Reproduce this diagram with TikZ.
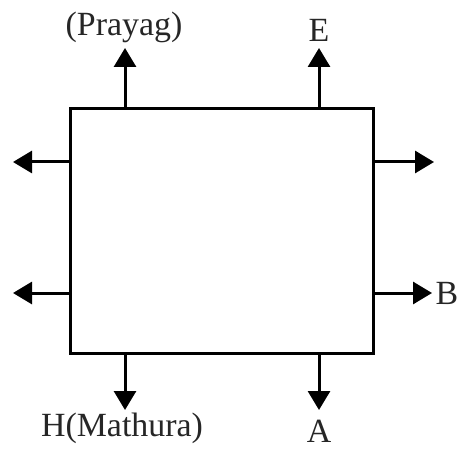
\documentclass[tikz,border=0pt]{standalone}
\usepackage{fontspec}
\setmainfont{Liberation Serif}
\usetikzlibrary{arrows.meta}
\begin{document}
\begin{tikzpicture}[x=1bp,y=-1bp,
  arr/.style={line width=3bp,-{Triangle[length=19bp,width=22bp]}},
  lbl/.style={font=\fontsize{34}{38}\selectfont,inner sep=0pt,text=black!85}]
\useasboundingbox (0,0) rectangle (460,450);
\node[draw,line width=3bp,minimum width=302bp,minimum height=244bp,inner sep=0pt] (box) at (222,231) {};
% tip coordinates
\coordinate (t1) at (125,48);
\coordinate (t2) at (319,48);
\coordinate (l1) at (13,162);
\coordinate (l2) at (13,293);
\coordinate (r1) at (434,162);
\coordinate (r2) at (432,293);
\coordinate (b1) at (125,410);
\coordinate (b2) at (319,410);
\draw[arr] (t1 |- box.north) -- (t1);
\draw[arr] (t2 |- box.north) -- (t2);
\draw[arr] (l1 -| box.west) -- (l1);
\draw[arr] (l2 -| box.west) -- (l2);
\draw[arr] (r1 -| box.east) -- (r1);
\draw[arr] (r2 -| box.east) -- (r2);
\draw[arr] (b1 |- box.south) -- (b1);
\draw[arr] (b2 |- box.south) -- (b2);
\node[lbl] (prayag) at (124,27) {(Prayag)};
\node[lbl] (e) at (319,30) {E};
\node[lbl] (mathura) at (122,428) {H(Mathura)};
\node[lbl] (a) at (319,431) {A};
\node[lbl] (b) at (447,293) {B};
\end{tikzpicture}
\end{document}
